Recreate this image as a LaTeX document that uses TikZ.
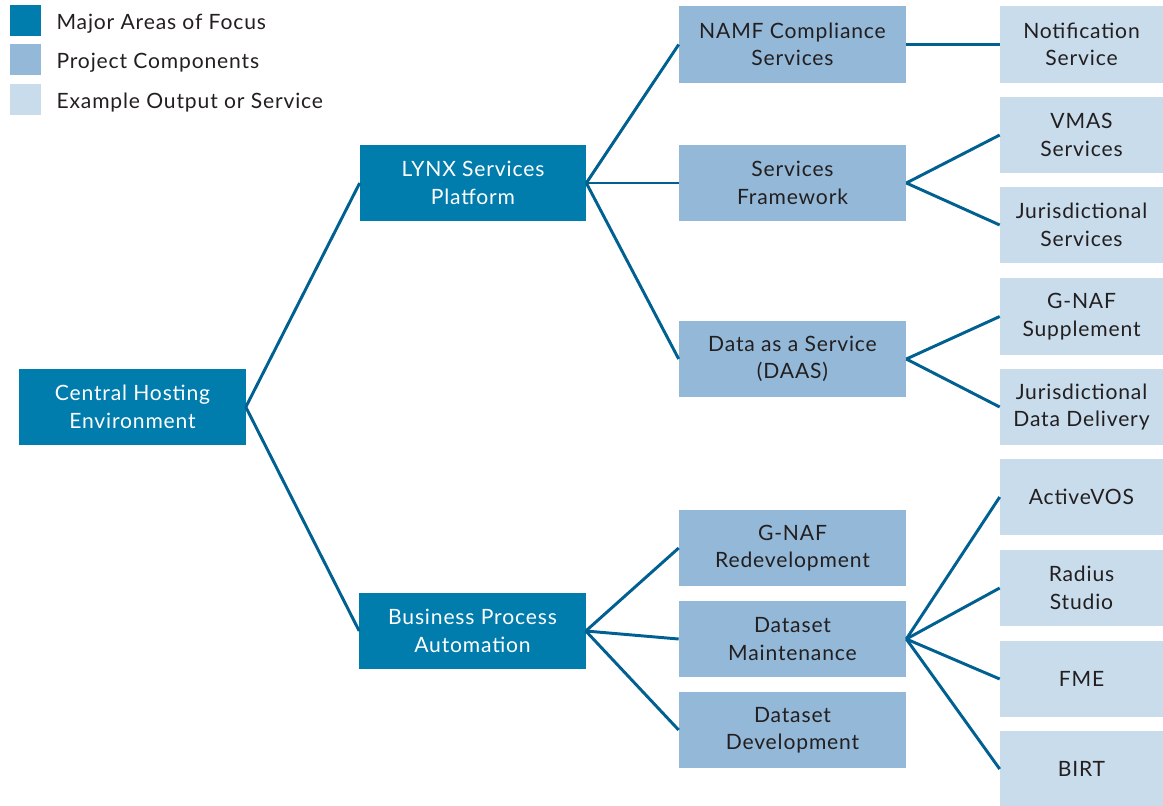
\documentclass[tikz,border=0pt]{standalone}
\usepackage{fontspec}
\setmainfont{Lato}[LetterSpace=4]
\usetikzlibrary{positioning}
\definecolor{focusblue}{RGB}{0,124,173}
\definecolor{compblue}{RGB}{147,184,216}
\definecolor{outblue}{RGB}{200,220,236}
\definecolor{linkblue}{RGB}{0,96,145}
\definecolor{textgray}{RGB}{35,31,32}
\begin{document}
\begin{tikzpicture}[x=0.025cm,y=-0.025cm,
    font=\fontsize{15}{19.5}\selectfont,
    box/.style={inner sep=0pt,minimum height=1.9cm,align=center},
    focus/.style={box,fill=focusblue,text=white,minimum width=5.65cm},
    component/.style={box,fill=compblue,text=textgray,minimum width=5.675cm},
    output/.style={box,fill=outblue,text=textgray,minimum width=4.075cm},
    keybox/.style={inner sep=0pt,minimum size=0.775cm},
    keytext/.style={inner sep=0pt,text=textgray,right=0.375cm of #1,yshift=-0.07cm},
    link/.style={draw=linkblue,line width=2.1pt}]
  \useasboundingbox (0,0) rectangle (1163,805);
  % legend
  \node[keybox,fill=focusblue] (keyfocus) at (25.5,20.5) {};
  \node[keybox,fill=compblue] (keycomp) at (25.5,59.5) {};
  \node[keybox,fill=outblue] (keyout) at (25.5,99.5) {};
  \node[keytext=keyfocus] {Major Areas of Focus};
  \node[keytext=keycomp] {Project Components};
  \node[keytext=keyout] {Example Output or Service};
  % major areas
  \node[focus] (central) at (132.5,407) {Central Hosting\\Environment};
  \node[focus] (lynx) at (473,183) {LYNX Services\\Platform};
  \node[focus] (bpa) at (472.5,631) {Business Process\\Automation};
  % project components
  \node[component] (namf) at (792.5,44.5) {NAMF Compliance\\Services};
  \node[component] (framework) at (792.5,183) {Services\\Framework};
  \node[component] (daas) at (792.5,359) {Data as a Service\\(DAAS)};
  \node[component] (redev) at (792.5,548) {G-NAF\\Redevelopment};
  \node[component] (maint) at (792.5,639) {Dataset\\Maintenance};
  \node[component] (devel) at (792.5,730) {Dataset\\Development};
  % example outputs
  \node[output] (notify) at (1081.5,44.5) {Notification\\Service};
  \node[output] (vmas) at (1081.5,135) {VMAS\\Services};
  \node[output] (jurserv) at (1081.5,225) {Jurisdictional\\Services};
  \node[output] (supp) at (1081.5,316.5) {G-NAF\\Supplement};
  \node[output] (jurdata) at (1081.5,407) {Jurisdictional\\Data Delivery};
  \node[output] (avos) at (1081.5,497) {ActiveVOS};
  \node[output] (radius) at (1081.5,588) {Radius\\Studio};
  \node[output] (fme) at (1081.5,679) {FME};
  \node[output] (birt) at (1081.5,769) {BIRT};
  % links
  \foreach \a/\b in {central/lynx,central/bpa,lynx/namf,lynx/framework,lynx/daas,
      bpa/redev,bpa/maint,bpa/devel,namf/notify,framework/vmas,framework/jurserv,
      daas/supp,daas/jurdata,maint/avos,maint/radius,maint/fme,maint/birt}
    \draw[link] (\a.east) -- (\b.west);
\end{tikzpicture}
\end{document}
